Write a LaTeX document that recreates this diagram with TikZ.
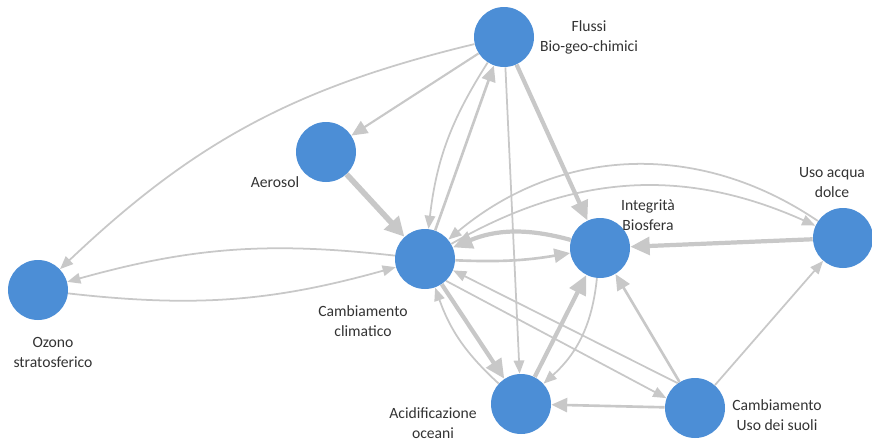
\documentclass[tikz,border=0pt]{standalone}
\usepackage{fontspec}
\setmainfont{Carlito}
\usetikzlibrary{arrows.meta, positioning, calc}

\definecolor{pbblue}{RGB}{76,142,214}
\definecolor{pbgray}{RGB}{200,200,200}

\begin{document}
\begin{tikzpicture}[
  % --- styles ------------------------------------------------------------
  bound/.style={circle, fill=pbblue, minimum size=1.2cm, inner sep=0pt},
  lbl/.style={font=\fontsize{8.9}{11.4}\selectfont, align=center, text=black!80, inner sep=0pt},
  link/.style={-{Triangle[length=7.5pt, width=6pt]}, line width=1pt, draw=pbgray},
  linkmid/.style={-{Triangle[length=9pt, width=8pt]}, line width=1.5pt, draw=pbgray},
  linkbold/.style={-{Triangle[length=11pt, width=10pt]}, line width=2.4pt, draw=pbgray},
  linkheavy/.style={-{Triangle[length=11pt, width=11pt]}, line width=3.2pt, draw=pbgray}
]
\useasboundingbox (0,0) rectangle (17.44,8.82);

% --------------------- boundaries ---------------------------------------
\node[bound] (flussi) at (10.08,8.08) {};
\node[bound] (aerosol) at (6.52,5.78) {};
\node[bound] (clima) at (8.50,3.64) {};
\node[bound] (biosfera) at (12.00,3.86) {};
\node[bound] (acqua) at (16.86,4.06) {};
\node[bound] (ozono) at (0.76,3.02) {};
\node[bound] (acidif) at (10.42,0.74) {};
\node[bound] (suoli) at (13.90,0.66) {};

% --------------------- from Flussi --------------------------------------
\draw[link] (flussi) to[bend right=15] (ozono);
\draw[linkmid, line width=1.2pt] (flussi) -- (aerosol);
\draw[link] (flussi) to[bend right=13] (clima);
\draw[link] (flussi) -- (acidif);
\draw[linkbold] (flussi) -- (biosfera);

% --------------------- Cambiamento climatico ----------------------------
\draw[linkheavy] (aerosol) -- (clima);
\draw[linkmid] (clima) -- (flussi);
\draw[link] (clima) to[bend right=11] (ozono);
\draw[link] (ozono) to[bend right=11] (clima);
\draw[linkbold] (biosfera) to[bend right=19] (clima);
\draw[linkmid] (clima) to[bend right=6] (biosfera);
\draw[link] (acqua) to[bend right=37] (clima);
\draw[link] (clima) to[bend left=27] (acqua);
\draw[linkbold] (clima) -- (acidif);
\draw[link] (acidif) to[bend left=14] (clima);

% --------------------- Biosfera / oceani / suoli ------------------------
\draw[linkbold] (acqua) -- (biosfera);
\draw[linkbold] (acidif) -- (biosfera);
\draw[link] (biosfera) to[bend left=21] (acidif);
\draw[linkmid] (suoli) -- (acidif);
\draw[linkmid] (suoli) -- (biosfera);
\draw[link] (suoli) -- (acqua);
\draw[link] (suoli.125) -- (clima.-22);
\draw[link] (clima.-46) -- (suoli.161);

% --------------------- labels -------------------------------------------
\node[lbl] (flussi-t) at ($(flussi)+(1.70,0)$) {Flussi\\Bio-geo-chimici};
\node[lbl] (aerosol-t) at ($(aerosol)+(-1.02,-0.60)$) {Aerosol};
\node[lbl] (clima-t) at ($(clima)+(-1.24,-1.24)$) {Cambiamento\\climatico};
\node[lbl] (ozono-t) at ($(ozono)+(0.30,-1.24)$) {Ozono\\stratosferico};
\node[lbl] (biosfera-t) at ($(biosfera)+(0.96,0.66)$) {Integrità\\Biosfera};
\node[lbl] (acqua-t) at ($(acqua)+(-0.22,1.10)$) {Uso acqua\\dolce};
\node[lbl] (acidif-t) at ($(acidif)+(-1.76,-0.38)$) {Acidificazione\\oceani};
\node[lbl] (suoli-t) at ($(suoli)+(1.64,-0.14)$) {Cambiamento\\Uso dei suoli};

\end{tikzpicture}
\end{document}
